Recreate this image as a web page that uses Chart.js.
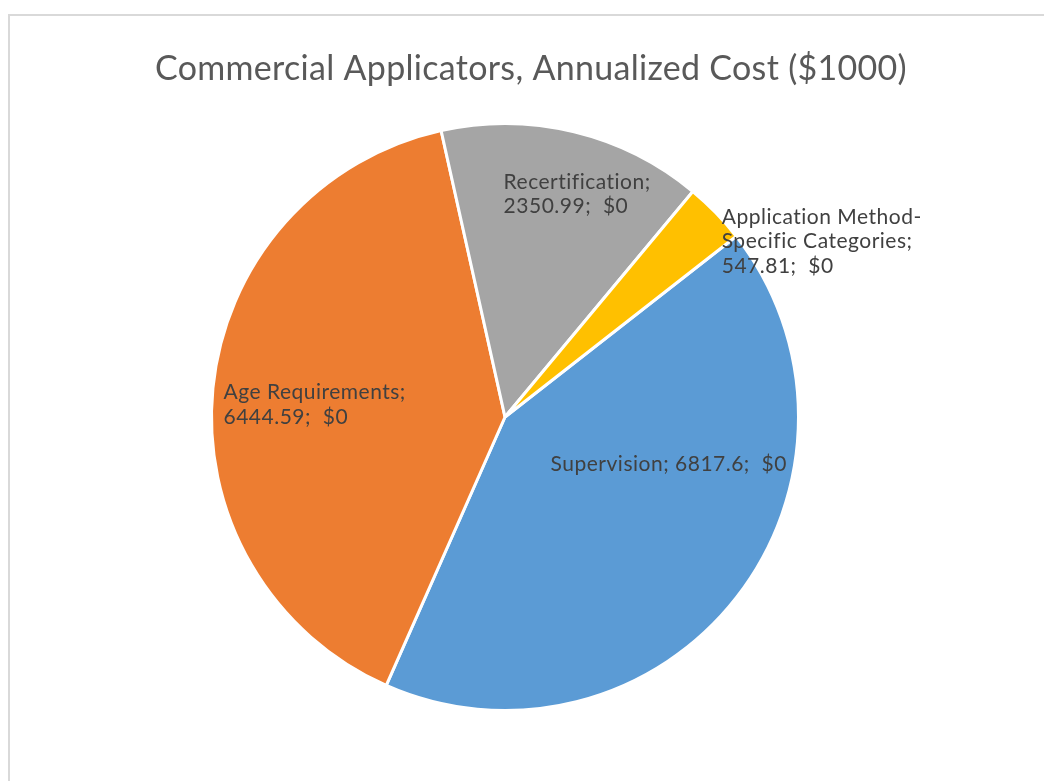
<!DOCTYPE html>
<html>
<head>
<meta charset="utf-8">
<script src="https://cdn.jsdelivr.net/npm/chart.js@4/dist/chart.umd.min.js"></script>
<style>
    html, body { margin: 0; padding: 0; background: #fff; overflow: hidden; }
    #frame {
        position: absolute; left: 8px; top: 14px;
        width: 1100px; height: 820px;
        border: 2px solid #d9d9d9; box-sizing: border-box;
    }
    #pieChart { position: absolute; left: 0; top: 0; }
</style>
</head>
<body>
<div id="frame"></div>
<canvas id="pieChart" width="1044" height="781"></canvas>
<script>
// --- data ---
const categories = ['Supervision', 'Age Requirements', 'Recertification', 'Application Method-Specific Categories'];
const costValues = [6817.6, 6444.59, 2350.99, 547.81];
const costSuffix = ['$0', '$0', '$0', '$0'];
// how each label is broken into lines (Excel wraps them)
const labelLines = [
    ['Supervision; 6817.6;  $0'],
    ['Age Requirements;', '6444.59;  $0'],
    ['Recertification;', '2350.99;  $0'],
    ['Application Method-', 'Specific Categories;', '547.81;  $0']
];

const sliceColors = ['#5b9bd5', '#ed7d31', '#a5a5a5', '#ffc000'];

// label block centres, polar around the pie centre: angle from 12 o'clock (deg), fraction of radius
const labelPlacement = [
    { angle: 105.8, r: 0.58 },
    { angle: 273.9, r: 0.65 },
    { angle: 17.9, r: 0.80 },
    { angle: 60.9, r: 1.235 }
];

const titleText = 'Commercial Applicators, Annualized Cost ($1000)';

// draws title + the Excel style data labels
const excelLabels = {
    id: 'excelLabels',
    afterDraw(chart) {
        const ctx = chart.ctx;
        ctx.save();
        ctx.fillStyle = '#595959';
        ctx.font = '34px Lato';
        ctx.letterSpacing = '0.3px';
        ctx.textAlign = 'center';
        ctx.textBaseline = 'alphabetic';
        ctx.fillText(titleText, 531, 80);

        const meta = chart.getDatasetMeta(0);
        const fontSize = 21;
        ctx.font = fontSize + 'px Lato';
        ctx.letterSpacing = '0.5px';
        ctx.fillStyle = '#404040';
        ctx.textAlign = 'left';
        const lineH = 24.5;
        meta.data.forEach((arc, i) => {
            const p = labelPlacement[i];
            const a = p.angle * Math.PI / 180;
            const cx = arc.x + arc.outerRadius * p.r * Math.sin(a);
            const cy = arc.y - arc.outerRadius * p.r * Math.cos(a);
            const lines = labelLines[i];
            const w = Math.max(...lines.map(l => ctx.measureText(l).width));
            const x0 = cx - w / 2;
            const y0 = cy - (lines.length - 1) * lineH / 2 + fontSize * 0.36;
            lines.forEach((l, k) => ctx.fillText(l, x0, y0 + k * lineH));
        });
        ctx.restore();
    }
};

new Chart(document.getElementById('pieChart'), {
    type: 'pie',
    data: {
        labels: categories,
        datasets: [{
            data: costValues,
            backgroundColor: sliceColors,
            borderColor: '#ffffff',
            borderWidth: 3
        }]
    },
    options: {
        responsive: false,
        animation: false,
        rotation: 52,
        layout: { padding: { top: 122, bottom: 69, left: 0, right: 34 } },
        plugins: {
            legend: { display: false },
            tooltip: { enabled: false },
            title: { display: false }
        }
    },
    plugins: [excelLabels]
});
</script>
</body>
</html>
